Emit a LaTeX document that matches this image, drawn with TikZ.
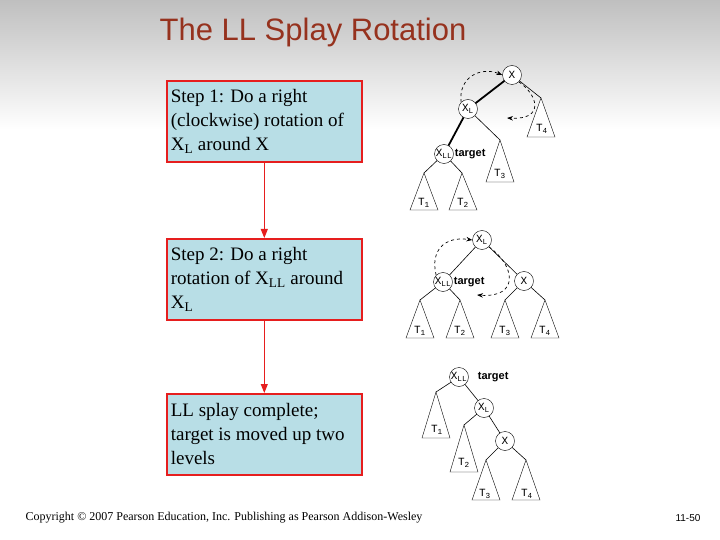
\documentclass[tikz,border=0pt]{standalone}
\usepackage{fontspec}
\setmainfont{Liberation Serif}
\setsansfont{Liberation Sans}
\setmonofont{Liberation Mono}
\usetikzlibrary{arrows.meta}
\definecolor{titlec}{RGB}{150,50,30}
\definecolor{boxfill}{RGB}{184,222,230}
\definecolor{boxred}{RGB}{230,30,30}
\begin{document}
\begin{tikzpicture}[x=1pt,y=-1pt,
  nd/.style={circle,draw,fill=white,inner sep=0pt,minimum size=19pt,font=\ttfamily\fontsize{11}{11}\selectfont},
  tri/.style={draw,fill=white},
  edge/.style={line width=0.6pt},
  thk/.style={line width=1.8pt},
  dsh/.style={dashed,line width=0.7pt,-{Stealth[length=6pt]}},
  stepbox/.style={draw=boxred,line width=1.6pt,fill=boxfill,anchor=north west,minimum width=195pt,minimum height=81pt,text width=187pt,align=flush left,inner sep=4pt,font=\fontsize{19}{24}\selectfont},
  tl/.style={font=\ttfamily\fontsize{11}{11}\selectfont,inner sep=0pt},
  tg/.style={font=\sffamily\bfseries\fontsize{11}{11}\selectfont,inner sep=1pt,anchor=west}]
\useasboundingbox (0,0) rectangle (720,540);
\shade[top color=black!25,bottom color=white] (0,0) rectangle (720,130);
\node[font=\sffamily\fontsize{31}{32}\selectfont,text=titlec] (title) at (313,32) {The LL Splay Rotation};
% boxes
\node[stepbox] (s1) at (166,80) {Step 1: Do a right (clockwise) rotation of X\textsubscript{L} around X};
\node[stepbox] (s2) at (166,238) {Step 2: Do a right rotation of X\textsubscript{LL} around X\textsubscript{L}};
\node[stepbox] (s3) at (166,393) {LL splay complete; target is moved up two levels};
\draw[boxred,line width=1pt,-{Triangle[length=9pt,width=7pt]}] (s1.south) -- (s2.north);
\draw[boxred,line width=1pt,-{Triangle[length=9pt,width=7pt]}] (s2.south) -- (s3.north);
% tree 1
\newcommand{\tri}[4]{\draw[tri] (#1,#2) -- (#3-14,#4) -- (#3+14,#4) -- cycle;}
\coordinate (a4) at (541,98); \coordinate (a3) at (500,140);
\coordinate (a1) at (424,173); \coordinate (a2) at (462,173);
\tri{541}{98}{541}{137} \tri{500}{140}{500}{182}
\tri{424}{173}{424}{210} \tri{462}{173}{463}{210}
\node[tl] (t14) at (542,129) {T\textsubscript{4}};
\node[tl] (t13) at (500,174) {T\textsubscript{3}};
\node[tl] (t11) at (424,203) {T\textsubscript{1}};
\node[tl] (t12) at (463,203) {T\textsubscript{2}};
\coordinate (x1) at (512,75); \coordinate (xl1) at (468,109); \coordinate (xll1) at (444,154);
\draw[thk] (x1) -- (xl1) -- (xll1);
\draw[edge] (x1) -- (a4) (xl1) -- (a3) (xll1) -- (a1) (xll1) -- (a2);
\node[nd] (n1x) at (x1) {X};
\node[nd] (n1l) at (xl1) {X\textsubscript{L}};
\node[nd] (n1ll) at (xll1) {X\textsubscript{LL}};
\node[tg] (g1) at (n1ll.east) {target};
\draw[dsh] (n1l.north west) .. controls (458,78) and (480,66) .. (n1x.west);
\draw[dsh] (n1x.south east) .. controls (538,95) and (545,120) .. (507,118);
% tree 2
\tri{420}{300}{420}{338} \tri{460}{300}{460}{338}
\tri{505}{300}{505}{338} \tri{545}{300}{545}{338}
\node[tl] (t21) at (420,331) {T\textsubscript{1}};
\node[tl] (t22) at (460,331) {T\textsubscript{2}};
\node[tl] (t23) at (505,331) {T\textsubscript{3}};
\node[tl] (t24) at (545,331) {T\textsubscript{4}};
\coordinate (xl2) at (482,240); \coordinate (xll2) at (443,282); \coordinate (x2) at (524,281);
\draw[edge] (xll2) -- (xl2) -- (x2);
\draw[edge] (xll2) -- (420,300) (xll2) -- (460,300) (x2) -- (505,300) (x2) -- (545,300);
\node[nd] (n2l) at (xl2) {X\textsubscript{L}};
\node[nd] (n2ll) at (xll2) {X\textsubscript{LL}};
\node[nd] (n2x) at (x2) {X};
\node[tg] (g2) at (n2ll.east) {target};
\draw[dsh] (n2ll.north west) .. controls (430,250) and (445,236) .. (n2l.west);
\draw[dsh] (n2l.south east) .. controls (515,265) and (520,298) .. (477,295);
% tree 3
\tri{436}{392}{436}{438} \tri{464}{425}{464}{472}
\tri{486}{460}{486}{500} \tri{526}{460}{526}{500}
\node[tl] (t31) at (437,430) {T\textsubscript{1}};
\node[tl] (t32) at (464,463) {T\textsubscript{2}};
\node[tl] (t33) at (485,494) {T\textsubscript{3}};
\node[tl] (t34) at (527,494) {T\textsubscript{4}};
\coordinate (xll3) at (459,377); \coordinate (xl3) at (484,408); \coordinate (x3) at (505,441);
\draw[edge] (xll3) -- (xl3) -- (x3);
\draw[edge] (xll3) -- (436,392) (xl3) -- (464,425) (x3) -- (486,460) (x3) -- (526,460);
\node[nd] (n3ll) at (xll3) {X\textsubscript{LL}};
\node[nd] (n3l) at (xl3) {X\textsubscript{L}};
\node[nd] (n3x) at (x3) {X};
\node[tg] (g3) at ([xshift=8pt]n3ll.east) {target};
% footer
\node[font=\fontsize{12}{12}\selectfont] (copy) at (224,518) {Copyright © 2007 Pearson Education, Inc. Publishing as Pearson Addison-Wesley};
\node[font=\sffamily\fontsize{10}{10}\selectfont] (pg) at (688,518) {11-50};
\end{tikzpicture}
\end{document}
